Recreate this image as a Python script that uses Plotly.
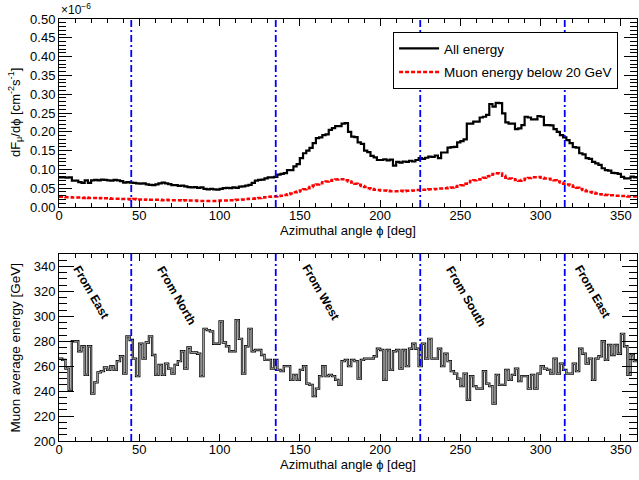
import numpy as np
import plotly.graph_objects as go

# ---------------- data ----------------
bin_width = 2.0  # degrees
phi_edges = np.arange(0.0, 360.0 + bin_width, bin_width)

# dF/dphi, all energies (units of 1e-6 cm^-2 s^-1), 2-degree bins from 0 to 360
flux_all = [
    0.079, 0.079, 0.078, 0.079, 0.070, 0.070, 0.066, 0.064, 0.071, 0.064,
    0.071, 0.072, 0.071, 0.073, 0.072, 0.071, 0.070, 0.072, 0.071, 0.069,
    0.065, 0.066, 0.065, 0.064, 0.063, 0.062, 0.063, 0.060, 0.059, 0.058,
    0.060, 0.063, 0.065, 0.063, 0.061, 0.058, 0.058, 0.056, 0.057, 0.055,
    0.053, 0.052, 0.053, 0.051, 0.052, 0.048, 0.047, 0.048, 0.047, 0.046,
    0.048, 0.050, 0.051, 0.050, 0.052, 0.051, 0.054, 0.055, 0.057, 0.059,
    0.064, 0.070, 0.072, 0.073, 0.076, 0.079, 0.079, 0.080, 0.086, 0.088,
    0.090, 0.098, 0.098, 0.108, 0.114, 0.130, 0.143, 0.150, 0.157, 0.170,
    0.183, 0.185, 0.191, 0.193, 0.205, 0.210, 0.215, 0.215, 0.222, 0.223,
    0.200, 0.187, 0.186, 0.172, 0.168, 0.150, 0.146, 0.136, 0.132, 0.125,
    0.125, 0.127, 0.124, 0.126, 0.110, 0.120, 0.118, 0.121, 0.120, 0.123,
    0.121, 0.125, 0.130, 0.128, 0.131, 0.134, 0.133, 0.137, 0.130, 0.145,
    0.145, 0.158, 0.159, 0.160, 0.172, 0.175, 0.180, 0.222, 0.222, 0.227,
    0.227, 0.238, 0.240, 0.245, 0.274, 0.267, 0.277, 0.276, 0.249, 0.225,
    0.222, 0.222, 0.207, 0.209, 0.218, 0.240, 0.238, 0.233, 0.233, 0.242,
    0.240, 0.218, 0.218, 0.217, 0.207, 0.200, 0.191, 0.185, 0.178, 0.170,
    0.159, 0.158, 0.143, 0.140, 0.130, 0.128, 0.120, 0.116, 0.112, 0.103,
    0.098, 0.097, 0.091, 0.090, 0.088, 0.080, 0.076, 0.076, 0.081, 0.079,
]

# dF/dphi, muon energy below 20 GeV (units of 1e-6 cm^-2 s^-1)
flux_low = [
    0.027, 0.027, 0.026, 0.026, 0.025, 0.025, 0.025, 0.024, 0.025, 0.024,
    0.024, 0.024, 0.023, 0.024, 0.023, 0.023, 0.022, 0.022, 0.022, 0.021,
    0.021, 0.021, 0.020, 0.021, 0.020, 0.020, 0.019, 0.020, 0.019, 0.019,
    0.019, 0.019, 0.018, 0.019, 0.018, 0.018, 0.018, 0.018, 0.017, 0.018,
    0.017, 0.017, 0.017, 0.016, 0.016, 0.016, 0.016, 0.016, 0.016, 0.016,
    0.017, 0.017, 0.017, 0.018, 0.018, 0.019, 0.019, 0.020, 0.021, 0.022,
    0.022, 0.023, 0.024, 0.025, 0.026, 0.027, 0.028, 0.028, 0.029, 0.030,
    0.032, 0.034, 0.036, 0.039, 0.041, 0.044, 0.047, 0.050, 0.053, 0.057,
    0.060, 0.063, 0.066, 0.068, 0.070, 0.072, 0.073, 0.074, 0.074, 0.071,
    0.068, 0.065, 0.062, 0.059, 0.056, 0.053, 0.050, 0.048, 0.046, 0.045,
    0.044, 0.044, 0.043, 0.042, 0.042, 0.042, 0.043, 0.042, 0.043, 0.043,
    0.044, 0.045, 0.045, 0.046, 0.046, 0.047, 0.047, 0.048, 0.049, 0.049,
    0.050, 0.051, 0.052, 0.054, 0.056, 0.058, 0.062, 0.066, 0.069, 0.071,
    0.073, 0.074, 0.078, 0.082, 0.086, 0.088, 0.090, 0.089, 0.083, 0.078,
    0.076, 0.074, 0.072, 0.070, 0.072, 0.075, 0.077, 0.079, 0.079, 0.080,
    0.078, 0.076, 0.075, 0.073, 0.071, 0.068, 0.065, 0.062, 0.060, 0.057,
    0.054, 0.051, 0.048, 0.045, 0.042, 0.040, 0.038, 0.036, 0.034, 0.033,
    0.032, 0.031, 0.031, 0.030, 0.030, 0.029, 0.029, 0.028, 0.028, 0.028,
]

# Muon average energy [GeV], 2-degree bins from 0 to 360
mean_energy = [
    266, 265, 258, 241, 280, 280, 272, 276, 253, 276,
    238, 247, 255, 256, 259, 257, 260, 257, 264, 268,
    254, 284, 281, 266, 252, 278, 266, 279, 284, 269,
    253, 261, 253, 262, 258, 254, 261, 264, 272, 258,
    275, 271, 271, 270, 252, 290, 289, 288, 278, 278,
    296, 279, 276, 272, 272, 297, 282, 254, 276,
    290, 272, 273, 273, 269, 265, 265, 258, 265, 257,
    256, 260, 260, 249, 253, 249, 257, 260, 246, 245,
    236, 242, 252, 260, 252, 253, 252, 249, 245, 264,
    265, 260, 265, 264, 250, 265, 266, 266, 266, 268,
    274, 273, 249, 273, 257, 272, 273, 258, 273, 260,
    274, 278, 274, 260, 278, 266, 282, 266, 266,
    274, 260, 270, 264, 256, 254, 250, 244, 254, 233,
    252, 244, 242, 242, 256, 246, 244, 230, 253, 245, 245,
    257, 249, 253, 258, 248, 252, 252, 242, 253, 242,
    254, 260, 258, 257, 254, 266, 254, 262, 257, 254, 254,
    262, 256, 274, 270, 262, 266, 249, 266, 268, 280,
    265, 277, 269, 277, 270, 286, 276, 253, 269, 264,
]

direction_angles = [45, 135, 225, 315]
direction_names = ["From East", "From North", "From West", "From South", "From East"]

series_names = ["All energy", "Muon energy below 20 GeV"]

# ---------------- figure ----------------
FONT = "Liberation Sans, Arial, Helvetica, sans-serif"


def step_xy(values):
    x = phi_edges
    y = list(values) + [values[-1]]
    return x, y


fig = go.Figure()

x, y = step_xy(flux_all)
fig.add_trace(go.Scatter(x=x, y=y, mode="lines", line_shape="hv",
                         line=dict(color="black", width=2.2),
                         name=series_names[0], legendgroup="a",
                         xaxis="x", yaxis="y"))
x, y = step_xy(flux_low)
fig.add_trace(go.Scatter(x=x, y=y, mode="lines", line_shape="hv",
                         line=dict(color="#ff0000", width=2.5, dash="4px,2px"),
                         name=series_names[1], legendgroup="b",
                         xaxis="x", yaxis="y"))

x, y = step_xy(mean_energy)
fig.add_trace(go.Scatter(x=x, y=y, mode="lines", line_shape="hv",
                         line=dict(color="black", width=2.3),
                         showlegend=False, xaxis="x2", yaxis="y2"))
fig.add_trace(go.Scatter(x=x, y=y, mode="lines", line_shape="hv",
                         line=dict(color="#c4c4c4", width=0.8),
                         showlegend=False, hoverinfo="skip",
                         xaxis="x2", yaxis="y2"))

shapes = []
for a in direction_angles:
    for xr, yr in (("x", "y domain"), ("x2", "y2 domain")):
        shapes.append(dict(type="line", xref=xr, yref=yr, x0=a, x1=a, y0=0, y1=1,
                           line=dict(color="#0000ff", width=1.8,
                                     dash="7px,3px,2px,3px")))

common_x = dict(range=[0, 360], tick0=0, dtick=50, ticks="inside", ticklen=7,
                tickcolor="black", showline=True, linecolor="black", linewidth=1,
                mirror="ticks", showgrid=False, zeroline=False, automargin=False,
                ticklabelstandoff=-4,
                tickfont=dict(family=FONT, size=13, color="black"),
                minor=dict(dtick=10, ticks="inside", ticklen=4, tickcolor="black"),
                title=dict(text="Azimuthal angle ϕ [deg]",
                           font=dict(family=FONT, size=13, color="black"),
                           standoff=0))

common_y = dict(ticks="inside", tickcolor="black", showline=True,
                linecolor="black", linewidth=1, mirror="ticks", showgrid=False,
                zeroline=False, automargin=False,
                tickfont=dict(family=FONT, size=13, color="black"))

annotations = [
    dict(xref="paper", yref="paper", x=0.0, y=1.0, xanchor="left", yanchor="bottom",
         text="×10<sup>−6</sup>", showarrow=False,
         font=dict(family=FONT, size=12, color="black")),
    dict(xref="paper", yref="paper", x=-0.076, y=0.7772, xanchor="center",
         yanchor="middle", textangle=-90, showarrow=False,
         text="dF<sub>μ</sub>/dϕ [cm<sup>-2</sup>s<sup>-1</sup>]",
         font=dict(family=FONT, size=13, color="black")),
    dict(xref="paper", yref="paper", x=-0.076, y=0.2215, xanchor="center",
         yanchor="middle", textangle=-90, showarrow=False,
         text="Muon average energy [GeV]",
         font=dict(family=FONT, size=13.5, color="black")),
]
label_pos = [(20, 319.5), (73, 317), (163, 319.5), (253.5, 316.5), (332.5, 319.5)]
for name, (px, py) in zip(direction_names, label_pos):
    annotations.append(dict(xref="x2", yref="y2", x=px, y=py, text="<b>%s</b>" % name,
                            textangle=60, showarrow=False, xanchor="center",
                            yanchor="middle",
                            font=dict(family=FONT, size=12, color="black")))

fig.update_layout(
    width=639, height=480,
    margin=dict(l=59, r=2, t=19, b=39),
    paper_bgcolor="white", plot_bgcolor="white",
    font=dict(family=FONT, size=12, color="black"),
    xaxis=dict(common_x, anchor="y", domain=[0, 1]),
    yaxis=dict(common_y, anchor="x", domain=[0.5545, 1.0], range=[0, 0.5],
               tick0=0, dtick=0.05, tickformat=".2f", ticklen=13,
               minor=dict(dtick=0.01, ticks="inside", ticklen=7, tickcolor="black")),
    xaxis2=dict(common_x, anchor="y2", domain=[0, 1]),
    yaxis2=dict(common_y, anchor="x2", domain=[0.0, 0.4431], range=[200, 350],
                tick0=200, dtick=20, ticklen=15,
                minor=dict(dtick=5, ticks="inside", ticklen=8, tickcolor="black")),
    shapes=shapes,
    annotations=annotations,
    showlegend=True,
    legend=dict(x=0.578, y=0.969, xanchor="left", yanchor="top",
                bgcolor="white", bordercolor="black", borderwidth=1,
                font=dict(family=FONT, size=13.5, color="black"),
                tracegroupgap=3, itemwidth=40),
)

fig.write_html("out.html",
               config={"displayModeBar": False},
               post_script="document.body.style.margin='0px';"
                           "document.body.style.overflow='hidden';")
